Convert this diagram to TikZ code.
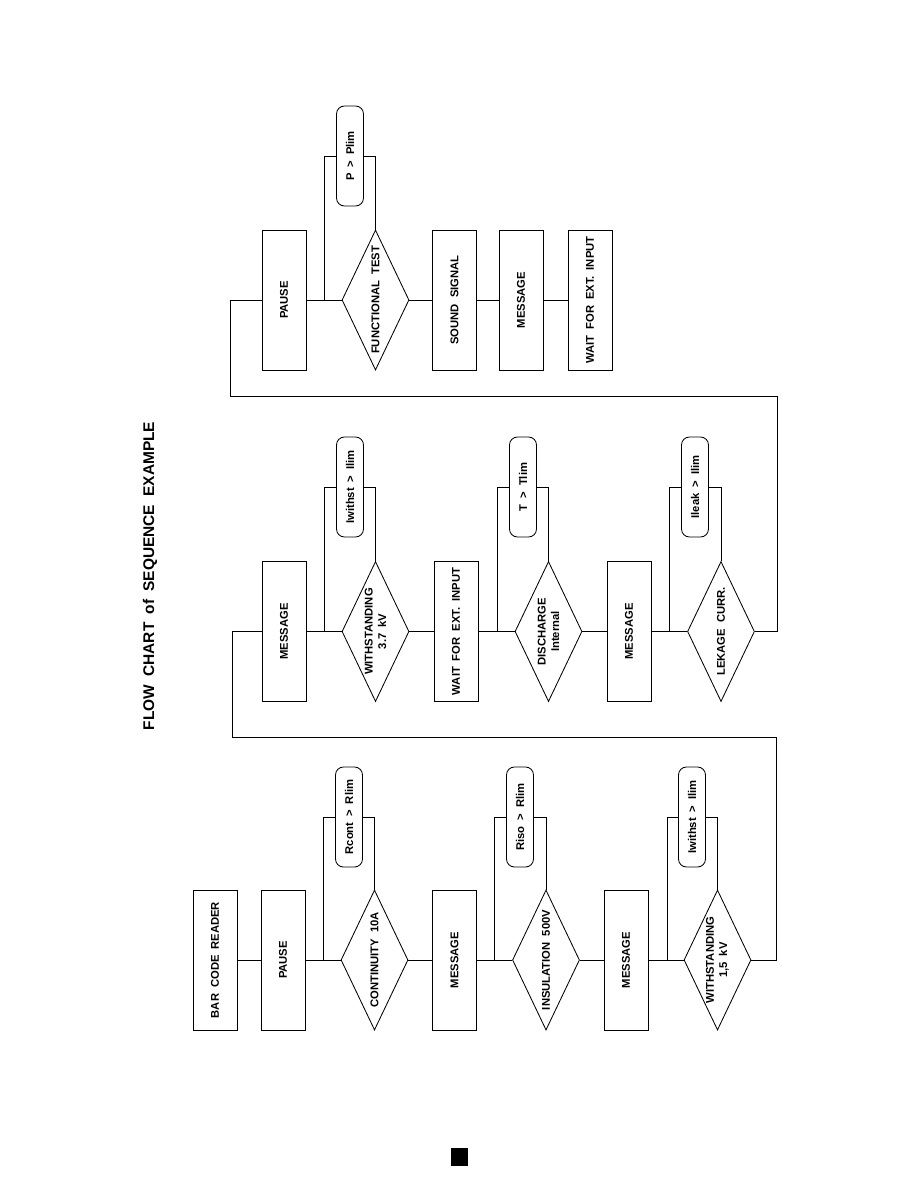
\documentclass[tikz,border=0pt]{standalone}
\usepackage{fontspec}
\setmainfont{Liberation Sans}[WordSpace=1.9]
\usetikzlibrary{shapes.geometric}
\begin{document}
\begin{tikzpicture}[x=0.025cm,y=-0.025cm,line width=0.6pt,
    action/.style={draw,rotate=90,minimum width=3.5cm,minimum height=1.1cm,inner sep=0pt,
      font=\fontsize{8}{9.5}\selectfont\bfseries},
    check/.style={draw,diamond,shape aspect=2.09,rotate=90,minimum width=3.5cm,minimum height=1.675cm,
      inner sep=-2pt,align=center,font=\fontsize{8}{9.5}\selectfont\bfseries},
    limit/.style={draw,fill=white,rounded corners=0.2cm,rotate=90,minimum width=2.5cm,
      minimum height=0.675cm,inner sep=0pt,font=\fontsize{8}{9.5}\selectfont\bfseries}]
  \fill[white] (0,0) rectangle (918,1188);
  \useasboundingbox (0,0) rectangle (918,1188);
  \node[rotate=90,font=\fontsize{11}{13}\selectfont\bfseries] (title) at (150,576) {FLOW CHART of SEQUENCE EXAMPLE};
  % first row
  \node[action] (bar) at (215,960) {BAR CODE READER};
  \node[action] (pause1) at (283,960) {PAUSE};
  \node[check] (cont) at (374.5,960) {CONTINUITY 10A};
  \node[action] (msg1) at (454.5,960) {MESSAGE};
  \node[check] (insul) at (546,960) {INSULATION 500V};
  \node[action] (msg2) at (626,960) {MESSAGE};
  \node[check] (with1) at (717.5,960) {WITHSTANDING\\1,5 kV};
  \coordinate (j1) at (323,960);
  \coordinate (j2) at (494,960);
  \coordinate (j3) at (667,960);
  \draw (bar.south) -- (pause1.north);
  \draw (pause1.south) -- (cont.north);
  \draw (cont.south) -- (msg1.north);
  \draw (msg1.south) -- (insul.north);
  \draw (insul.south) -- (msg2.north);
  \draw (msg2.south) -- (with1.north);
  \draw (j1) |- (349,817) coordinate (k1);
  \draw (j2) |- (520,817) coordinate (k2);
  \draw (j3) |- (692,817) coordinate (k3);
  \draw (k1) -| (cont.east);
  \draw (k2) -| (insul.east);
  \draw (k3) -| (with1.east);
  \node[limit] (rcont) at (k1) {Rcont > Rlim};
  \node[limit] (riso) at (k2) {Riso > Rlim};
  \node[limit] (iwith1) at (k3) {Iwithst > Ilim};
  % second row
  \node[action] (msg3) at (284,631.5) {MESSAGE};
  \node[check] (with2) at (375.5,631.5) {WITHSTANDING\\3.7 kV};
  \node[action] (wait1) at (456,631.5) {WAIT FOR EXT. INPUT};
  \node[check] (disch) at (548.5,631.5) {DISCHARGE\\Internal};
  \node[action] (msg4) at (629,631.5) {MESSAGE};
  \node[check] (leak) at (721,631.5) {LEKAGE CURR.};
  \coordinate (j4) at (324,631.5);
  \coordinate (j5) at (497,631.5);
  \coordinate (j6) at (669,631.5);
  \draw (msg3.south) -- (with2.north);
  \draw (with2.south) -- (wait1.north);
  \draw (wait1.south) -- (disch.north);
  \draw (disch.south) -- (msg4.north);
  \draw (msg4.south) -- (leak.north);
  \draw (j4) |- (350,487) coordinate (k4);
  \draw (j5) |- (523,487) coordinate (k5);
  \draw (j6) |- (695,487) coordinate (k6);
  \draw (k4) -| (with2.east);
  \draw (k5) -| (disch.east);
  \draw (k6) -| (leak.east);
  \node[limit] (iwith2) at (k4) {Iwithst > Ilim};
  \node[limit] (tlim) at (k5) {T > Tlim};
  \node[limit] (ileak) at (k6) {Ileak > Ilim};
  % third row
  \node[action] (pause2) at (284,300) {PAUSE};
  \node[check] (func) at (375.5,300) {FUNCTIONAL TEST};
  \node[action] (sound) at (454.5,300) {SOUND SIGNAL};
  \node[action] (msg5) at (521,300) {MESSAGE};
  \node[action] (wait2) at (590,300) {WAIT FOR EXT. INPUT};
  \coordinate (j7) at (324,300);
  \draw (pause2.south) -- (func.north);
  \draw (func.south) -- (sound.north);
  \draw (sound.south) -- (msg5.north);
  \draw (msg5.south) -- (wait2.north);
  \draw (j7) |- (350,156) coordinate (k7);
  \draw (k7) -| (func.east);
  \node[limit] (plim) at (k7) {P > Plim};
  % loops back
  \coordinate (c1) at (776,737);
  \coordinate (c2) at (232,737);
  \draw (with1.south) -| (c1) -- (c2) |- (msg3.north);
  \coordinate (c3) at (777,396);
  \coordinate (c4) at (230,396);
  \draw (leak.south) -| (c3) -- (c4) |- (pause2.north);
  \node[fill=black,minimum width=0.425cm,minimum height=0.45cm,inner sep=0pt] (pg) at (459.5,1157) {};
\end{tikzpicture}
\end{document}
